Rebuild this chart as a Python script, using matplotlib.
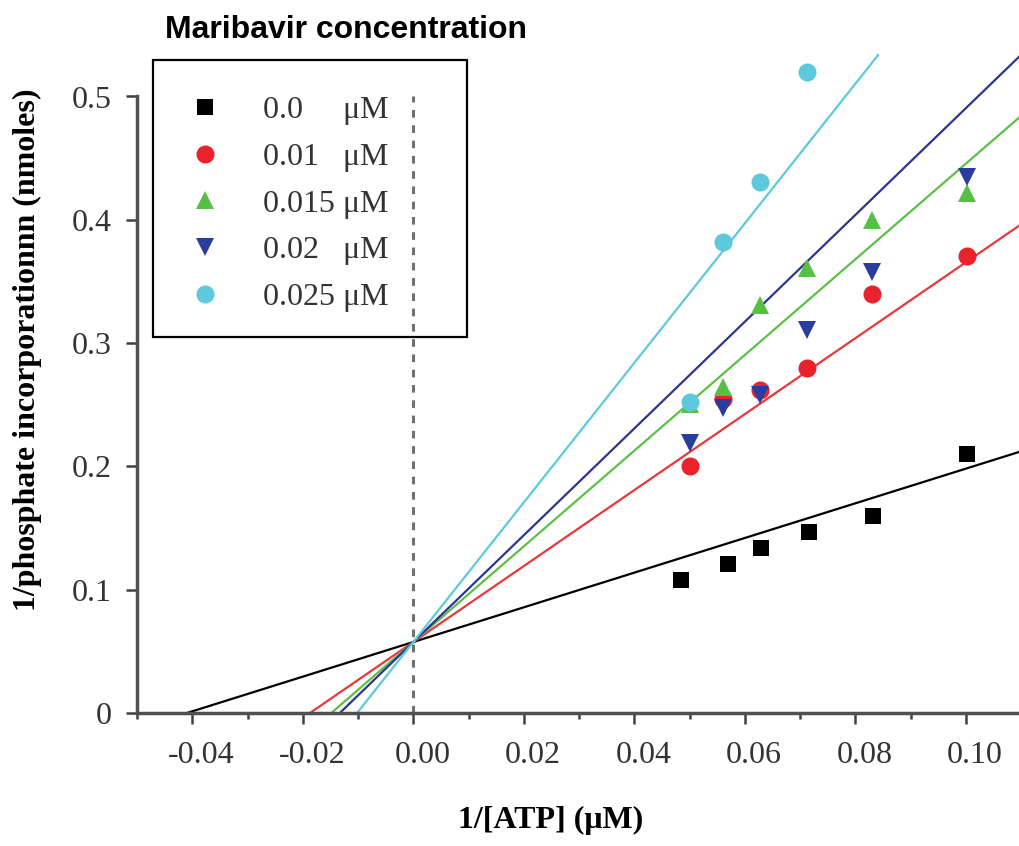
import numpy as np
import matplotlib.pyplot as plt
import matplotlib.transforms as mtransforms
from matplotlib.patches import Rectangle
from matplotlib.ticker import MultipleLocator, FixedLocator

# ------------------------------------------------------------
# data
# ------------------------------------------------------------
labels = ["0.0     \u03bcM", "0.01   \u03bcM", "0.015 \u03bcM", "0.02   \u03bcM", "0.025 \u03bcM"]
colors = ["#000000", "#e8232b", "#55c043", "#2a3d9e", "#5ec9dd"]
line_colors = ["#000000", "#e8383c", "#5cc046", "#2c3590", "#5ec9dd"]
markers = ["s", "o", "^", "v", "o"]

x_black = [0.0485, 0.0570, 0.0629, 0.0716, 0.0832, 0.1002]
y_black = [0.108, 0.121, 0.134, 0.147, 0.160, 0.210]

x_red = [0.0501, 0.0561, 0.0627, 0.0712, 0.0830, 0.1002]
y_red = [0.200, 0.255, 0.262, 0.280, 0.340, 0.371]

x_green = [0.0501, 0.0561, 0.0627, 0.0712, 0.0830, 0.1002]
y_green = [0.251, 0.264, 0.331, 0.361, 0.400, 0.422]

x_blue = [0.0501, 0.0561, 0.0627, 0.0712, 0.0830, 0.1002]
y_blue = [0.219, 0.247, 0.258, 0.311, 0.358, 0.435]

x_cyan = [0.0501, 0.0561, 0.0627, 0.0712]
y_cyan = [0.252, 0.382, 0.431, 0.520]

xs = [x_black, x_red, x_green, x_blue, x_cyan]
ys = [y_black, y_red, y_green, y_blue, y_cyan]

# fitted lines  y = intercept + slope * x  (all meet near x = 0)
fit_intercept = [0.0576, 0.0576, 0.0576, 0.0576, 0.0576]
fit_slope = [1.406, 3.08, 3.88, 4.33, 5.66]
fit_xend = [0.11, 0.11, 0.11, 0.11, 0.0841]

serif = "Liberation Serif"
FS = 23

fig = plt.figure(figsize=(10.19, 8.46), dpi=100)
ax = fig.add_axes([137 / 1019, 1 - 713 / 846, 1 - 137 / 1019, 713 / 846])

ymax = 713 / 1233.0
ax.set_xlim(-0.05, 0.1096)
ax.set_ylim(0, ymax)

# fitted lines from x-intercept to end
for b, m, xe, c in zip(fit_intercept, fit_slope, fit_xend, line_colors):
    x0 = -b / m
    xl = np.array([x0, xe])
    ax.plot(xl, b + m * xl, color=c, linewidth=1.6, zorder=2, clip_on=True)

# dashed line at x = 0
ax.axvline(0, ymin=0, ymax=0.5 / ymax, color="#707070", linestyle=(0, (2.5, 2.5)),
           linewidth=2.2, zorder=1)

sizes = [11, 13, 13, 13, 13]
for x, y, c, mk, lab, ms in zip(xs, ys, colors, markers, labels, sizes):
    ax.plot(x, y, linestyle="none", marker=mk, color=c, markersize=ms,
            markeredgewidth=0, label=lab, zorder=3, clip_on=False)

# axes styling
for s in ["top", "right"]:
    ax.spines[s].set_visible(False)
for s in ["left", "bottom"]:
    ax.spines[s].set_color("#505050")
    ax.spines[s].set_linewidth(2.5)
ax.spines["left"].set_bounds(0, 0.5)

ax.xaxis.set_major_locator(FixedLocator([-0.04, -0.02, 0.0, 0.02, 0.04, 0.06, 0.08, 0.10]))
ax.xaxis.set_minor_locator(MultipleLocator(0.01))
ax.set_xticklabels(["-0.04", "-0.02", "0.00", "0.02", "0.04", "0.06", "0.08", "0.10"])
ax.yaxis.set_major_locator(FixedLocator([0, 0.1, 0.2, 0.3, 0.4, 0.5]))
ax.set_yticklabels(["0", "0.1", "0.2", "0.3", "0.4", "0.5"])

ax.tick_params(axis="both", which="major", direction="out", length=8, width=1.8,
               color="#404040", labelsize=FS, labelcolor="#333333", pad=10)
ax.tick_params(axis="x", which="major", pad=12)
ax.tick_params(axis="x", which="minor", direction="out", length=4, width=1.8,
               color="#404040")
shift = mtransforms.ScaledTranslation(0.09, 0, fig.dpi_scale_trans)
for t in ax.get_xticklabels():
    t.set_fontfamily(serif)
    t.set_transform(t.get_transform() + shift)
for t in ax.get_yticklabels():
    t.set_fontfamily(serif)

ax.set_xlabel("1/[ATP] (\u03bcM)", fontfamily=serif, fontweight="bold", fontsize=FS)
ax.xaxis.set_label_coords((551 - 137) / (1019 - 137), -(806 - 713) / 713)
ax.set_ylabel("1/phosphate incorporationnn (nmoles)", fontfamily=serif,
              fontweight="bold", fontsize=FS)
ax.yaxis.set_label_coords(-(137 - 42) / (1019 - 137), (713 - 350) / 713)

fig.text(165 / 1019, 1 - 30 / 846, "Maribavir concentration", fontfamily="Liberation Sans",
         fontweight="bold", fontsize=23, ha="left", va="center")

leg = ax.legend(loc="upper left", bbox_to_anchor=(153 / 1019, 1 - 60 / 846),
                bbox_transform=fig.transFigure, borderaxespad=0, frameon=False,
                numpoints=1, prop={"family": serif, "size": FS}, borderpad=1.115,
                labelspacing=0.545, handlelength=1.03, handletextpad=1.3)
for t in leg.get_texts():
    t.set_color("#333333")

# legend box
fig.add_artist(Rectangle((153 / 1019, 1 - 337 / 846), 314 / 1019, 277 / 846,
                         transform=fig.transFigure, fill=False, edgecolor="black",
                         linewidth=1.6))

plt.savefig("out.png", dpi=100)
